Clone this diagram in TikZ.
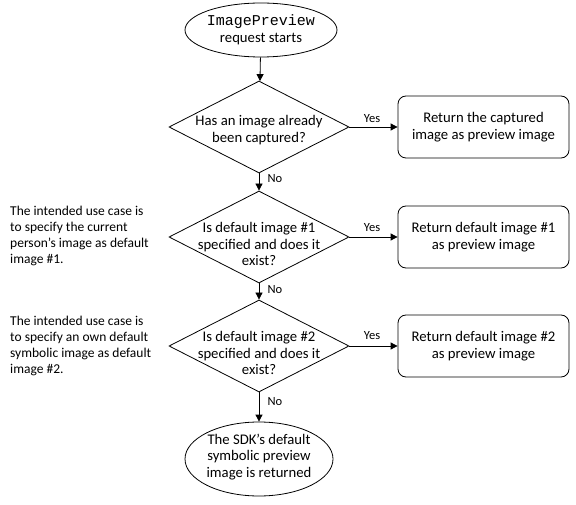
\documentclass[tikz,border=0pt]{standalone}
\usepackage{fontspec}
\setmainfont{Carlito}
\newfontfamily\monof{Liberation Mono}
\usetikzlibrary{shapes.geometric,arrows.meta}
\tikzset{
  base/.style={font=\fontsize{14.7}{16.5}\selectfont},
  dia/.style={diamond,draw,line width=0.8pt,minimum width=180pt,minimum height=92pt,inner sep=0pt},
  ell/.style={ellipse,draw,line width=0.8pt,inner sep=0pt},
  txt/.style={base,align=center,inner sep=0pt},
  resbox/.style={draw,line width=0.8pt,rounded corners=8pt,minimum width=171pt,minimum height=62pt,base,align=center,inner sep=0pt},
  note/.style={base,align=left,anchor=north west,inner sep=0pt,font=\fontsize{13.5}{16}\selectfont},
  lab/.style={base,inner sep=0pt,font=\fontsize{12.5}{14}\selectfont},
  arr/.style={line width=0.8pt,-{Triangle[length=7pt,width=7pt]}}
}
\begin{document}
\begin{tikzpicture}[x=1pt,y=-1pt]
\useasboundingbox (0,0) rectangle (576,505);
% start
\node[ell,minimum width=152pt,minimum height=54pt] (s) at (261,30) {};
\node[txt] (st) at (261,30) {{\monof\fontsize{15}{16.5}\selectfont ImagePreview}\\request starts};
% diamonds
\node[dia] (d1) at (259,127) {};
\node[txt] (t1) at (259,130) {Has an image already\\been captured?};
\node[dia] (d2) at (259,237) {};
\node[txt] (t2) at (259,244) {Is default image \#1\\specified and does it\\exist?};
\node[dia] (d3) at (259,346) {};
\node[txt] (t3) at (259,353) {Is default image \#2\\specified and does it\\exist?};
% end
\node[ell,minimum width=148pt,minimum height=74pt] (e) at (259,459) {};
\node[txt] (et) at (259,457) {The SDK's default\\symbolic preview\\image is returned};
% boxes
\node[resbox] (b1) at (483.5,127) {Return the captured\\image as preview image};
\node[resbox] (b2) at (483.5,237) {Return default image \#1\\as preview image};
\node[resbox] (b3) at (483.5,346) {Return default image \#2\\as preview image};
% notes
\node[note] (n1) at (10,206) {The intended use case is\\to specify the current\\person's image as default\\image \#1.};
\node[note] (n2) at (10,316) {The intended use case is\\to specify an own default\\symbolic image as default\\image \#2.};
% connectors
\draw[arr] (s) -- (d1);
\draw[arr] (d1) -- (d2);
\draw[arr] (d2) -- (d3);
\draw[arr] (d3) -- (e);
\draw[arr] (d1.east) -- (b1.west);
\draw[arr] (d2.east) -- (b2.west);
\draw[arr] (d3.east) -- (b3.west);
% labels
\node[lab] (y1) at (372,119) {Yes};
\node[lab] (y2) at (372,228) {Yes};
\node[lab] (y3) at (372,336) {Yes};
\node[lab] (no1) at (275,179) {No};
\node[lab] (no2) at (275,290) {No};
\node[lab] (no3) at (275,402) {No};
\end{tikzpicture}
\end{document}
